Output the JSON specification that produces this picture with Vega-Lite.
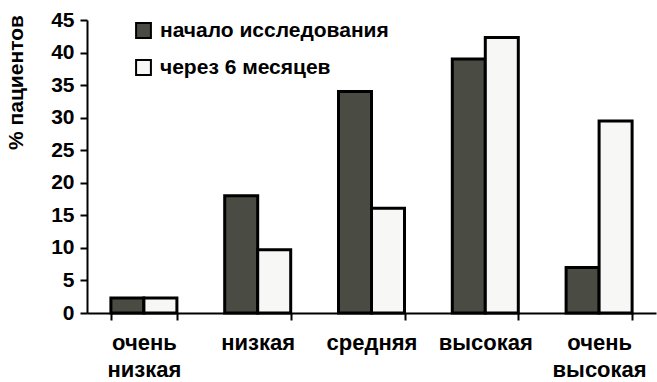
{
  "$schema": "https://vega.github.io/schema/vega-lite/v6.json",
  "width": 569,
  "height": 293,
  "autosize": "none",
  "padding": {"left": 87, "top": 20, "right": 1, "bottom": 69},
  "background": "white",
  "config": {
    "view": {"stroke": null},
    "font": "Liberation Sans",
    "axis": {"grid": false, "domainColor": "black", "tickColor": "black", "labelColor": "black", "titleColor": "black", "domainWidth": 2, "tickWidth": 2}
  },
  "data": {
    "values": [
      {"cat": "очень низкая", "series": "начало исследования", "value": 2.3},
      {"cat": "очень низкая", "series": "через 6 месяцев", "value": 2.3},
      {"cat": "низкая", "series": "начало исследования", "value": 18},
      {"cat": "низкая", "series": "через 6 месяцев", "value": 9.7},
      {"cat": "средняя", "series": "начало исследования", "value": 34},
      {"cat": "средняя", "series": "через 6 месяцев", "value": 16.1},
      {"cat": "высокая", "series": "начало исследования", "value": 39},
      {"cat": "высокая", "series": "через 6 месяцев", "value": 42.3},
      {"cat": "очень высокая", "series": "начало исследования", "value": 7},
      {"cat": "очень высокая", "series": "через 6 месяцев", "value": 29.5}
    ]
  },
  "mark": {"type": "bar", "stroke": "black", "strokeWidth": 3},
  "encoding": {
    "x": {
      "field": "cat",
      "type": "nominal",
      "sort": ["очень низкая", "низкая", "средняя", "высокая", "очень высокая"],
      "scale": {"paddingInner": 0.42, "paddingOuter": 0.21},
      "axis": {
        "title": null,
        "labelAngle": 0,
        "labelFontSize": 22,
        "labelFontWeight": "bold",
        "labelPadding": 12,
        "labelExpr": "datum.value == 'очень низкая' ? ['очень', 'низкая'] : datum.value == 'очень высокая' ? ['очень', 'высокая'] : datum.value",
        "labelLineHeight": 27,
        "labelLimit": 200,
        "bandPosition": 0,
        "tickSize": 7,
        "tickBand": "extent"
      }
    },
    "xOffset": {
      "field": "series",
      "type": "nominal",
      "sort": ["начало исследования", "через 6 месяцев"]
    },
    "y": {
      "field": "value",
      "type": "quantitative",
      "scale": {"domain": [0, 45], "nice": false},
      "axis": {
        "values": [0, 5, 10, 15, 20, 25, 30, 35, 40, 45],
        "title": "% пациентов",
        "titleFontSize": 21,
        "titleFontWeight": "bold",
        "titleAngle": -90,
        "titleX": -71,
        "titleY": 62,
        "titleAlign": "center",
        "titleBaseline": "middle",
        "labelFontSize": 21,
        "labelFontWeight": "bold",
        "labelPadding": 6,
        "tickSize": 7
      }
    },
    "fill": {
      "field": "series",
      "type": "nominal",
      "sort": ["начало исследования", "через 6 месяцев"],
      "scale": {"range": ["#4a4b42", "#f7f7f5"]},
      "legend": {
        "title": null,
        "orient": "none",
        "legendX": 46,
        "legendY": 0,
        "direction": "vertical",
        "symbolType": "square",
        "symbolSize": 220,
        "symbolStrokeColor": "black",
        "symbolStrokeWidth": 2,
        "labelFontSize": 21,
        "labelFontWeight": "bold",
        "labelColor": "black",
        "labelOffset": 6,
        "labelLimit": 400,
        "rowPadding": 14
      }
    }
  }
}
